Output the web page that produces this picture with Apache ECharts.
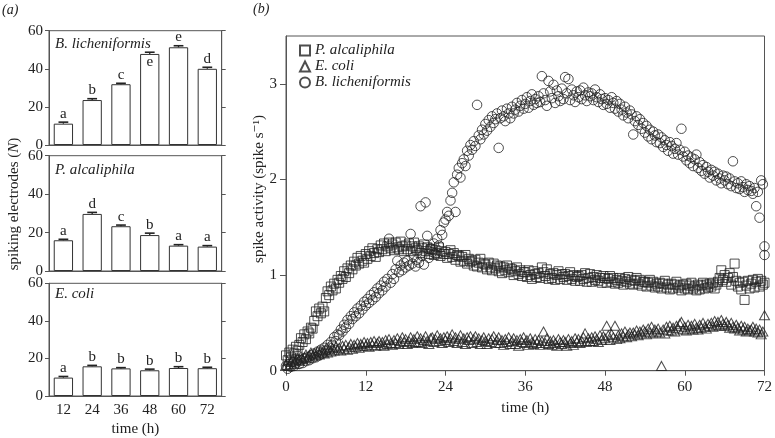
<!DOCTYPE html>
<html><head><meta charset="utf-8">
<script src="https://cdn.jsdelivr.net/npm/echarts@6/dist/echarts.min.js"></script>
<style>html,body{margin:0;padding:0;background:#fff}#c{width:775px;height:438px}</style>
</head><body><div id="c"></div>
<script>
// ---------- Panel (a): bar data ----------
const barCategories = ['12', '24', '36', '48', '60', '72'];
const yTicksBars = [0, 20, 40, 60];

const bLichBars = [11.2, 23.6, 31.9, 47.8, 51.3, 40.0];
const bLichErr = [0.8, 0.7, 0.5, 0.9, 0.8, 0.8];
const bLichLetters = ['a', 'b', 'c', 'e', 'e', 'd'];

const pAlcBars = [16.0, 29.7, 23.3, 18.7, 13.2, 12.7];
const pAlcErr = [0.5, 0.8, 0.6, 1.0, 0.5, 0.5];
const pAlcLetters = ['a', 'd', 'c', 'b', 'a', 'a'];

const eColiBars = [9.8, 15.8, 14.7, 13.7, 14.9, 14.8];
const eColiErr = [0.6, 0.5, 0.4, 0.6, 0.7, 0.5];
const eColiLetters = ['a', 'b', 'b', 'b', 'b', 'b'];

// ---------- Panel (b): spike activity, sampled every STEP hours from 0 h ----------
const STEP = 0.25;
const xTicksTime = [0, 12, 24, 36, 48, 60, 72];
const yTicksActivity = [0, 1, 2, 3];

const pAlcActivity = [
0.16,0.11,0.19,0.14,0.22,0.18,0.25,0.21,
0.27,0.34,0.30,0.38,0.33,0.41,0.39,0.45,
0.44,0.52,0.62,0.57,0.65,0.60,0.67,0.62,
0.76,0.83,0.79,0.88,0.84,0.91,0.86,0.95,
0.92,0.99,0.96,1.04,0.98,1.07,1.02,1.10,
1.06,1.14,1.10,1.18,1.12,1.20,1.15,1.13,
1.22,1.17,1.25,1.20,1.28,1.23,1.19,1.27,
1.24,1.31,1.27,1.33,1.25,1.30,1.34,1.28,
1.32,1.26,1.34,1.29,1.27,1.35,1.30,1.25,
1.31,1.27,1.33,1.25,1.30,1.34,1.28,1.26,
1.30,1.23,1.28,1.32,1.25,1.29,1.22,1.27,
1.27,1.21,1.26,1.23,1.29,1.20,1.25,1.22,
1.24,1.18,1.22,1.26,1.19,1.23,1.16,1.21,
1.20,1.14,1.19,1.15,1.21,1.12,1.17,1.14,
1.15,1.10,1.16,1.09,1.13,1.17,1.08,1.12,
1.11,1.06,1.13,1.08,1.05,1.12,1.07,1.10,
1.04,1.09,1.02,1.08,1.05,1.10,1.03,1.07,
1.06,1.00,1.04,1.08,1.01,1.05,0.99,1.03,
1.03,0.98,1.05,1.00,0.96,1.04,1.01,0.98,
1.02,0.97,1.08,1.03,0.99,1.06,0.96,1.01,
0.97,1.02,0.95,1.00,1.04,0.96,1.01,0.98,
1.01,0.95,0.99,1.03,0.96,1.00,0.94,0.98,
0.99,0.94,1.00,0.96,1.02,0.93,0.97,1.01,
0.93,0.98,0.95,1.00,0.94,0.97,0.92,0.99,
0.97,0.92,0.96,0.99,0.93,0.97,0.91,0.95,
0.92,0.97,0.94,0.90,0.96,0.93,0.98,0.91,
0.95,0.90,0.94,0.97,0.91,0.95,0.89,0.93,
0.93,0.88,0.92,0.95,0.89,0.93,0.87,0.91,
0.88,0.92,0.86,0.91,0.94,0.87,0.90,0.85,
0.91,0.86,0.90,0.93,0.87,0.89,0.84,0.90,
0.86,0.91,0.85,0.89,0.92,0.86,0.88,0.84,
0.90,0.85,0.89,0.92,0.86,0.90,0.87,0.91,
0.88,0.92,0.86,0.90,0.93,0.97,1.05,0.95,
1.00,0.93,0.97,1.02,0.90,0.98,1.12,0.94,
0.88,0.92,0.85,0.93,0.74,0.89,0.94,0.86,
0.91,0.95,0.87,0.93,0.96,0.88,0.94,0.90,
0.92];

const eColiActivity = [
0.06,0.10,0.05,0.09,0.12,0.07,0.11,0.13,
0.10,0.15,0.12,0.14,0.17,0.13,0.16,0.19,
0.15,0.18,0.16,0.20,0.17,0.21,0.19,0.18,
0.22,0.19,0.23,0.20,0.24,0.21,0.25,0.22,
0.24,0.21,0.26,0.23,0.27,0.22,0.25,0.28,
0.23,0.27,0.25,0.29,0.24,0.28,0.26,0.30,
0.26,0.29,0.25,0.30,0.27,0.31,0.26,0.29,
0.31,0.27,0.30,0.26,0.32,0.28,0.33,0.29,
0.27,0.32,0.29,0.34,0.28,0.31,0.35,0.30,
0.33,0.28,0.31,0.35,0.29,0.33,0.30,0.36,
0.30,0.34,0.29,0.32,0.36,0.31,0.28,0.34,
0.35,0.30,0.33,0.37,0.31,0.34,0.29,0.35,
0.32,0.36,0.30,0.34,0.38,0.31,0.35,0.29,
0.33,0.37,0.30,0.34,0.28,0.35,0.32,0.36,
0.29,0.33,0.36,0.30,0.34,0.28,0.32,0.35,
0.31,0.28,0.34,0.30,0.33,0.36,0.29,0.32,
0.35,0.29,0.32,0.27,0.33,0.30,0.35,0.28,
0.31,0.34,0.28,0.32,0.26,0.33,0.30,0.35,
0.29,0.32,0.27,0.34,0.30,0.28,0.33,0.29,
0.32,0.27,0.31,0.41,0.29,0.34,0.28,0.31,
0.27,0.32,0.29,0.26,0.33,0.30,0.28,0.32,
0.30,0.26,0.33,0.29,0.31,0.27,0.34,0.30,
0.33,0.29,0.31,0.35,0.39,0.30,0.34,0.31,
0.35,0.31,0.36,0.33,0.30,0.37,0.32,0.36,
0.34,0.47,0.37,0.32,0.38,0.35,0.47,0.33,
0.37,0.34,0.39,0.36,0.41,0.35,0.38,0.40,
0.36,0.40,0.38,0.42,0.37,0.41,0.39,0.43,
0.41,0.38,0.44,0.40,0.46,0.39,0.43,0.41,
0.44,0.40,0.05,0.43,0.39,0.46,0.42,0.47,
0.42,0.45,0.41,0.47,0.44,0.49,0.51,0.43,
0.46,0.42,0.48,0.44,0.47,0.43,0.49,0.45,
0.43,0.48,0.45,0.50,0.46,0.44,0.49,0.47,
0.50,0.46,0.52,0.48,0.51,0.47,0.53,0.49,
0.47,0.51,0.48,0.45,0.50,0.46,0.44,0.48,
0.45,0.42,0.47,0.43,0.46,0.41,0.44,0.42,
0.43,0.46,0.41,0.44,0.40,0.43,0.38,0.41,
0.58];

const bLichActivity = [
0.05,0.02,0.07,0.04,0.09,0.05,0.08,0.11,
0.07,0.11,0.08,0.13,0.10,0.14,0.11,0.16,
0.13,0.18,0.14,0.20,0.16,0.22,0.18,0.24,
0.21,0.27,0.24,0.30,0.27,0.35,0.31,0.38,
0.37,0.43,0.41,0.48,0.45,0.53,0.49,0.57,
0.54,0.61,0.57,0.65,0.60,0.68,0.64,0.72,
0.68,0.75,0.71,0.79,0.74,0.82,0.77,0.86,
0.81,0.89,0.84,0.93,0.88,0.96,1.38,0.92,
1.01,0.96,1.06,1.15,1.03,1.10,1.05,1.13,
1.08,1.15,1.10,1.43,1.12,1.19,1.09,1.16,
1.13,1.72,1.20,1.11,1.76,1.41,1.18,1.28,
1.24,1.33,1.22,1.38,1.31,1.47,1.42,1.55,
1.58,1.66,1.62,1.78,1.86,1.97,1.66,2.05,
2.12,2.02,2.17,2.21,2.14,2.30,2.25,2.36,
2.31,2.40,2.35,2.78,2.46,2.42,2.52,2.47,
2.58,2.51,2.62,2.55,2.66,2.59,2.63,2.69,
2.33,2.64,2.72,2.66,2.61,2.74,2.69,2.64,
2.76,2.69,2.73,2.80,2.71,2.77,2.83,2.74,
2.79,2.86,2.75,2.82,2.89,2.78,2.84,2.80,
2.87,2.81,3.08,2.90,2.83,2.77,3.03,2.92,
2.85,2.99,2.80,2.93,2.87,2.82,2.95,2.84,
3.07,2.90,3.05,2.83,2.94,2.88,2.81,2.92,
2.86,2.93,2.84,2.96,2.88,2.82,2.91,2.87,
2.90,2.83,2.94,2.86,2.81,2.89,2.84,2.78,
2.85,2.79,2.83,2.75,2.86,2.80,2.74,2.82,
2.71,2.79,2.73,2.67,2.76,2.70,2.64,2.72,
2.68,2.47,2.61,2.66,2.57,2.63,2.53,2.59,
2.49,2.56,2.45,2.52,2.42,2.50,2.46,2.39,
2.47,2.38,2.44,2.34,2.41,2.36,2.30,2.39,
2.35,2.27,2.32,2.38,2.26,2.31,2.53,2.24,
2.29,2.20,2.25,2.17,2.23,2.14,2.21,2.26,
2.12,2.18,2.09,2.15,2.06,2.13,2.08,2.02,
2.10,2.04,2.08,1.99,2.06,2.01,1.96,2.04,
1.99,2.03,1.95,2.01,1.93,2.19,1.98,1.91,
1.96,1.90,1.98,1.92,1.87,1.95,1.89,1.93,
1.88,1.85,1.91,1.72,1.87,1.60,1.99,1.95,
1.30];
const bLichExtra = [[72, 1.21]];

// ---------- rendering ----------
const FONT = "'Liberation Serif', 'DejaVu Serif', serif";
const AX = '#555';
const TXT = '#222';

const chart = echarts.init(document.getElementById('c'), null, {renderer: 'canvas'});

const leftGrids = [
  {left: 49, width: 172.7, top: 30.7, height: 114.3},
  {left: 49, width: 172.7, top: 155.7, height: 115.3},
  {left: 49, width: 172.7, top: 283.3, height: 114}
];
const rightGrid = {left: 286, width: 482, top: 36, height: 334.7};

const barSets = [
  {vals: bLichBars, err: bLichErr, letters: bLichLetters, inside: [3]},
  {vals: pAlcBars, err: pAlcErr, letters: pAlcLetters, inside: []},
  {vals: eColiBars, err: eColiErr, letters: eColiLetters, inside: []}
];

const grid = [];
const xAxis = [];
const yAxis = [];
const series = [];

leftGrids.forEach((g, i) => {
  grid.push(Object.assign({show: true, borderColor: AX, borderWidth: 1, containLabel: false}, g));
  const isBottom = i === 2;
  xAxis.push({
    type: 'category', gridIndex: i, data: barCategories, position: 'bottom',
    axisLine: {lineStyle: {color: AX}},
    axisTick: {alignWithLabel: true, length: 4, lineStyle: {color: AX}},
    axisLabel: {show: isBottom, fontFamily: FONT, fontSize: 15, color: TXT, margin: 7},
    name: isBottom ? 'time (h)' : '', nameLocation: 'middle', nameGap: 26,
    nameTextStyle: {fontFamily: FONT, fontSize: 15, color: TXT}
  });
  xAxis.push({
    type: 'category', gridIndex: i, data: barCategories, position: 'top',
    axisLine: {lineStyle: {color: AX}},
    axisTick: {alignWithLabel: true, length: 4, lineStyle: {color: AX}},
    axisLabel: {show: false}
  });
  yAxis.push({
    type: 'value', gridIndex: i, min: 0, max: 60, interval: 20, position: 'left',
    axisLine: {show: true, lineStyle: {color: AX}},
    axisTick: {show: true, length: 4, lineStyle: {color: AX}},
    splitLine: {show: false},
    axisLabel: {fontFamily: FONT, fontSize: 15, color: TXT, margin: 6}
  });
  yAxis.push({
    type: 'value', gridIndex: i, min: 0, max: 60, interval: 20, position: 'right',
    axisLine: {show: true, lineStyle: {color: AX}},
    axisTick: {show: true, length: 4, lineStyle: {color: AX}},
    splitLine: {show: false},
    axisLabel: {show: false}
  });
  const set = barSets[i];
  series.push({
    type: 'bar', xAxisIndex: 2 * i, yAxisIndex: 2 * i, data: set.vals,
    barWidth: '67%', silent: true,
    itemStyle: {color: '#fff', borderColor: '#333', borderWidth: 1}
  });
  series.push({
    type: 'custom', xAxisIndex: 2 * i, yAxisIndex: 2 * i, silent: true, z: 5,
    data: set.vals.map((v, k) => [k, v, set.err[k]]),
    encode: {x: 0, y: 1},
    renderItem: function (params, api) {
      const x = api.value(0), v = api.value(1), e = api.value(2);
      const p0 = api.coord([x, v]);
      const p1 = api.coord([x, v + e]);
      const hw = api.size([1, 0])[0] * 0.17;
      const inside = set.inside.indexOf(params.dataIndex) >= 0;
      const letter = set.letters[params.dataIndex];
      return {type: 'group', children: [
        {type: 'line', shape: {x1: p0[0], y1: p0[1], x2: p1[0], y2: p1[1]}, style: {stroke: '#222', lineWidth: 1.3}},
        {type: 'line', shape: {x1: p1[0] - hw, y1: p1[1], x2: p1[0] + hw, y2: p1[1]}, style: {stroke: '#222', lineWidth: 1.6}},
        {type: 'text', style: {
          text: letter, x: p1[0], y: inside ? p0[1] + 1 : p1[1] - 1,
          align: 'center', verticalAlign: inside ? 'top' : 'bottom',
          fontFamily: FONT, fontSize: 15, fill: TXT
        }}
      ]};
    }
  });
});

// right panel
grid.push(Object.assign({show: true, borderColor: AX, borderWidth: 1}, rightGrid));
xAxis.push({
  type: 'value', gridIndex: 3, min: 0, max: 72, interval: 12,
  axisLine: {lineStyle: {color: AX}},
  axisTick: {length: 5, lineStyle: {color: AX}},
  splitLine: {show: false},
  axisLabel: {fontFamily: FONT, fontSize: 15, color: TXT, margin: 9},
  name: 'time (h)', nameLocation: 'middle', nameGap: 30,
  nameTextStyle: {fontFamily: FONT, fontSize: 15, color: TXT}
});
yAxis.push({
  type: 'value', gridIndex: 3, min: 0, max: 3.5, interval: 1,
  axisLine: {show: true, lineStyle: {color: AX}},
  axisTick: {show: true, length: 6, lineStyle: {color: AX}, customValues: yTicksActivity},
  splitLine: {show: false},
  axisLabel: {fontFamily: FONT, fontSize: 15, color: TXT, margin: 9, customValues: yTicksActivity}
});

const toPts = arr => arr.map((v, i) => [i * STEP, v]);
const markerStyle = {color: 'rgba(0,0,0,0)', borderColor: '#222', borderWidth: 1};

series.push({
  name: 'P. alcaliphila', type: 'scatter', xAxisIndex: 6, yAxisIndex: 6,
  symbol: 'rect', symbolSize: 9, data: toPts(pAlcActivity), itemStyle: markerStyle, silent: true, z: 3
});
series.push({
  name: 'E. coli', type: 'scatter', xAxisIndex: 6, yAxisIndex: 6,
  symbol: 'triangle', symbolSize: [10, 9], data: toPts(eColiActivity), itemStyle: markerStyle, silent: true, z: 3
});
series.push({
  name: 'B. licheniformis', type: 'scatter', xAxisIndex: 6, yAxisIndex: 6,
  symbol: 'circle', symbolSize: 9.5, data: toPts(bLichActivity).concat(bLichExtra), itemStyle: markerStyle, silent: true, z: 3
});

const italic = {fontFamily: FONT, fontStyle: 'italic', fontSize: 15, fill: TXT};

chart.setOption({
  animation: false,
  backgroundColor: '#fff',
  grid, xAxis, yAxis, series,
  legend: {
    data: ['P. alcaliphila', 'E. coli', 'B. licheniformis'],
    orient: 'vertical', left: 299, top: 43, padding: 0, itemWidth: 10, itemHeight: 10, itemGap: 1,
    selectedMode: false,
    textStyle: {fontFamily: FONT, fontStyle: 'italic', fontSize: 15, color: TXT}
  },
  graphic: [
    {type: 'text', left: 2, top: 3, style: Object.assign({text: '(a)'}, italic, {fontSize: 14})},
    {type: 'text', left: 253, top: 2, style: Object.assign({text: '(b)'}, italic, {fontSize: 14})},
    {type: 'text', left: 55, top: 37, style: Object.assign({text: 'B. licheniformis'}, italic)},
    {type: 'text', left: 55, top: 163, style: Object.assign({text: 'P. alcaliphila'}, italic)},
    {type: 'text', left: 55, top: 287, style: Object.assign({text: 'E. coli'}, italic)},
    {type: 'text', x: 14, y: 204, rotation: Math.PI / 2, style: {
      text: '{n|spiking electrodes (}{i|N}{n|)}', align: 'center', verticalAlign: 'middle',
      rich: {n: {fontFamily: FONT, fontSize: 15, fill: TXT}, i: {fontFamily: FONT, fontSize: 15, fontStyle: 'italic', fill: TXT}}
    }},
    {type: 'text', x: 259, y: 189, rotation: Math.PI / 2, style: {
      text: 'spike activity (spike s\u207B\u00B9)', align: 'center', verticalAlign: 'middle',
      fontFamily: FONT, fontSize: 15, fill: TXT
    }}
  ]
});
</script>
</body></html>
